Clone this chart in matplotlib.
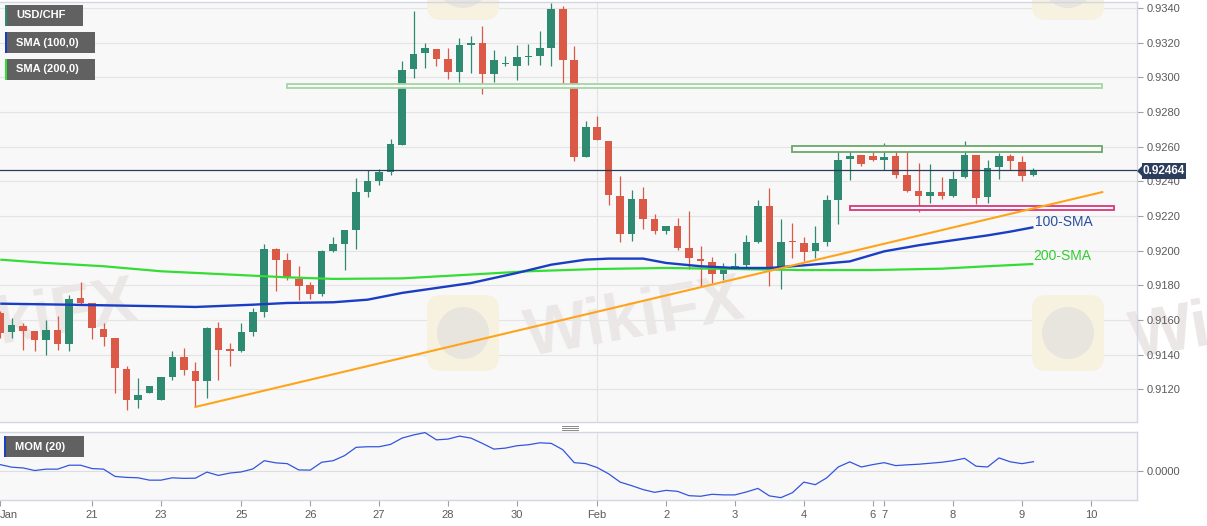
import numpy as np
import matplotlib
matplotlib.use('Agg')
import matplotlib.pyplot as plt
from matplotlib.patches import Rectangle, FancyBboxPatch, Circle, Polygon
from matplotlib.lines import Line2D
from matplotlib.transforms import IdentityTransform

plt.rcParams['font.family'] = ['Liberation Sans', 'DejaVu Sans']

# 4h candles, USD/CHF
opens = [0.91640, 0.91529, 0.91567, 0.91535, 0.91487, 0.91540, 0.91462, 0.91727, 0.91698, 0.91550,
         0.91496, 0.91319, 0.91137, 0.91177, 0.91140, 0.91271, 0.91387, 0.91304, 0.91246, 0.91554,
         0.91430, 0.91419, 0.91531, 0.91646, 0.92010, 0.91948, 0.91837, 0.91800, 0.91752, 0.91996,
         0.92038, 0.92117, 0.92338, 0.92404, 0.92454, 0.92612, 0.93048, 0.93140, 0.93165, 0.93106,
         0.93029, 0.93188, 0.93198, 0.93021, 0.93080, 0.93067, 0.93117, 0.93125, 0.93169, 0.93396,
         0.93098, 0.92540, 0.92713, 0.92635, 0.92313, 0.92096, 0.92298, 0.92185, 0.92112, 0.92144,
         0.92015, 0.91952, 0.91933, 0.91867, 0.91905, 0.91919, 0.92048, 0.92260, 0.91900, 0.92054,
         0.92044, 0.91996, 0.92048, 0.92294, 0.92529, 0.92550, 0.92548, 0.92521, 0.92544, 0.92435,
         0.92342, 0.92313, 0.92337, 0.92313, 0.92423, 0.92554, 0.92308, 0.92481, 0.92548, 0.92510,
         0.92437]
highs = [0.91650, 0.91609, 0.91583, 0.91535, 0.91602, 0.91621, 0.91746, 0.91817, 0.91698, 0.91583,
         0.91496, 0.91337, 0.91265, 0.91221, 0.91269, 0.91419, 0.91438, 0.91356, 0.91558, 0.91587,
         0.91467, 0.91583, 0.91669, 0.92038, 0.92015, 0.91987, 0.91910, 0.91817, 0.92006, 0.92079,
         0.92117, 0.92419, 0.92463, 0.92471, 0.92644, 0.93092, 0.93381, 0.93198, 0.93165, 0.93169,
         0.93227, 0.93237, 0.93298, 0.93156, 0.93125, 0.93185, 0.93194, 0.93265, 0.93429, 0.93413,
         0.93179, 0.92746, 0.92779, 0.92635, 0.92433, 0.92348, 0.92367, 0.92213, 0.92144, 0.92188,
         0.92227, 0.92025, 0.91963, 0.91929, 0.91987, 0.92092, 0.92294, 0.92362, 0.92185, 0.92160,
         0.92079, 0.92140, 0.92323, 0.92592, 0.92573, 0.92550, 0.92592, 0.92621, 0.92573, 0.92573,
         0.92506, 0.92502, 0.92425, 0.92458, 0.92631, 0.92554, 0.92521, 0.92563, 0.92558, 0.92548,
         0.92477]
lows = [0.91496, 0.91496, 0.91429, 0.91419, 0.91400, 0.91429, 0.91419, 0.91688, 0.91491, 0.91448,
        0.91179, 0.91083, 0.91092, 0.91177, 0.91140, 0.91256, 0.91285, 0.91098, 0.91150, 0.91256,
        0.91333, 0.91415, 0.91506, 0.91617, 0.91765, 0.91833, 0.91717, 0.91721, 0.91740, 0.91992,
        0.91890, 0.92010, 0.92310, 0.92381, 0.92435, 0.92608, 0.92996, 0.93054, 0.93063, 0.92990,
        0.92971, 0.93025, 0.92904, 0.92971, 0.93063, 0.92983, 0.93073, 0.93073, 0.93063, 0.92952,
        0.92519, 0.92540, 0.92637, 0.92265, 0.92048, 0.92054, 0.92125, 0.92096, 0.92098, 0.92006,
        0.91894, 0.91794, 0.91813, 0.91833, 0.91900, 0.91900, 0.92044, 0.91794, 0.91779, 0.91958,
        0.91938, 0.91958, 0.92025, 0.92156, 0.92406, 0.92487, 0.92515, 0.92467, 0.92419, 0.92337,
        0.92221, 0.92275, 0.92300, 0.92310, 0.92419, 0.92271, 0.92275, 0.92413, 0.92463, 0.92400,
        0.92429]
closes = [0.91525, 0.91573, 0.91538, 0.91487, 0.91544, 0.91463, 0.91723, 0.91698, 0.91554, 0.91502,
          0.91323, 0.91140, 0.91165, 0.91221, 0.91269, 0.91385, 0.91310, 0.91250, 0.91554, 0.91429,
          0.91422, 0.91531, 0.91644, 0.92010, 0.91944, 0.91846, 0.91798, 0.91752, 0.91996, 0.92038,
          0.92117, 0.92337, 0.92404, 0.92452, 0.92617, 0.93044, 0.93137, 0.93169, 0.93108, 0.93029,
          0.93185, 0.93198, 0.93021, 0.93102, 0.93085, 0.93117, 0.93121, 0.93169, 0.93396, 0.93102,
          0.92540, 0.92713, 0.92637, 0.92319, 0.92096, 0.92298, 0.92185, 0.92112, 0.92144, 0.92015,
          0.91958, 0.91938, 0.91867, 0.91894, 0.91910, 0.92048, 0.92260, 0.91900, 0.92050, 0.92048,
          0.91992, 0.92044, 0.92294, 0.92525, 0.92548, 0.92502, 0.92521, 0.92540, 0.92438, 0.92346,
          0.92313, 0.92338, 0.92313, 0.92415, 0.92554, 0.92304, 0.92477, 0.92548, 0.92515, 0.92433,
          0.92464]

# moving averages, sampled along the curves
sma100_idx = [0, 6, 14, 17, 22, 25, 29, 32, 35, 41, 45, 48, 51, 53, 56, 58, 61, 64, 67, 70,
              74, 77, 80, 83, 86, 88, 90]
sma100_val = [0.91694, 0.91688, 0.91679, 0.91675, 0.91688, 0.91698, 0.91702, 0.91717, 0.91756,
              0.91813, 0.91871, 0.91919, 0.91948, 0.91954, 0.91954, 0.91929, 0.91910, 0.91900,
              0.91900, 0.91915, 0.91938, 0.91996, 0.92031, 0.92060, 0.92088, 0.92110, 0.92135]
sma200_idx = [0, 4, 9, 14, 20, 25, 29, 35, 41, 46, 52, 58, 64, 70, 76, 82, 86, 90]
sma200_val = [0.91948, 0.91929, 0.91910, 0.91881, 0.91862, 0.91846, 0.91837, 0.91840, 0.91862,
              0.91881, 0.91894, 0.91900, 0.91894, 0.91888, 0.91888, 0.91896, 0.91910, 0.91923]

# momentum (20)
mom = [0.0030, 0.0017, 0.0013, 0.0000, 0.0007, 0.0007, 0.0027, 0.0027, 0.0010, 0.0007,
       -0.0030, -0.0035, -0.0037, -0.0049, -0.0049, -0.0037, -0.0040, -0.0039, -0.0008, -0.0025,
       -0.0013, -0.0007, 0.0008, 0.0050, 0.0039, 0.0035, 0.0003, 0.0002, 0.0042, 0.0050,
       0.0076, 0.0118, 0.0121, 0.0121, 0.0133, 0.0165, 0.0181, 0.0193, 0.0156, 0.0160,
       0.0175, 0.0165, 0.0138, 0.0109, 0.0114, 0.0126, 0.0131, 0.0141, 0.0138, 0.0106,
       0.0040, 0.0035, 0.0015, -0.0017, -0.0059, -0.0077, -0.0097, -0.0111, -0.0101, -0.0106,
       -0.0128, -0.0131, -0.0121, -0.0124, -0.0124, -0.0109, -0.0091, -0.0129, -0.0138, -0.0113,
       -0.0059, -0.0072, -0.0037, 0.0018, 0.0044, 0.0018, 0.0030, 0.0040, 0.0025, 0.0029,
       0.0032, 0.0037, 0.0042, 0.0050, 0.0062, 0.0022, 0.0018, 0.0064, 0.0044, 0.0035,
       0.0045]

# drawn levels
trend_idx = [17, 96]
trend_val = [0.91098, 0.92338]
zone_start = [25, 69, 74]
zone_end = [96, 96, 97]
zone_low = [0.92938, 0.92571, 0.92237]
zone_high = [0.92964, 0.92602, 0.92260]
last_price = 0.92464

day_pos = [0, 8, 14, 21, 27, 33, 39, 45, 52, 58, 64, 70, 76, 77, 83, 89, 95]
day_lab = ['Jan', '21', '23', '25', '26', '27', '28', '30', 'Feb', '2', '3', '4', '6', '7', '8', '9', '10']
price_ticks = [0.9120, 0.9140, 0.9160, 0.9180, 0.9200, 0.9220, 0.9240, 0.9260, 0.9280, 0.9300, 0.9320, 0.9340]

W, H = 1207, 526
GREEN = '#2e8a70'
RED = '#da5a47'
BORDER = '#d3d6e4'
TXT = '#5a5a5a'

fig = plt.figure(figsize=(W / 100, H / 100), dpi=100)
fig.patch.set_facecolor('white')
ax = fig.add_axes([0, 1 - 422 / H, 1137 / W, 420.5 / H])
axm = fig.add_axes([0, 1 - 500 / H, 1137 / W, 68 / H])

idx = np.arange(len(closes))
o = np.array(opens); c = np.array(closes)
h = np.array(highs); l = np.array(lows)
up = c >= o
cols = np.where(up, GREEN, RED)

for a in (ax, axm):
    a.set_facecolor('#f8f8f8')
    a.set_xlim(-0.02, 99.02)
    a.spines['left'].set_visible(False)
    for s in ('top', 'right', 'bottom'):
        a.spines[s].set_color(BORDER)
        a.spines[s].set_linewidth(1)
    a.yaxis.tick_right()
    a.tick_params(axis='y', length=4, width=0.8, color='#a0a0a0', labelcolor=TXT,
                  labelsize=8, pad=3)
    a.axvline(52, color='#e2e2e2', lw=0.8, zorder=0.6)

# main panel
ax.set_ylim(0.91011, 0.93438)
ax.set_yticks(price_ticks)
ax.set_yticklabels(['%.4f' % t for t in price_ticks])
ax.set_xticks([])
for t in price_ticks:
    ax.axhline(t, color='#e4e4e4', lw=0.8, zorder=0.5)

ax.vlines(idx, l, h, colors=cols, lw=0.9, zorder=3)
body = np.maximum(np.abs(c - o), 0.00004)
ax.bar(idx, body, bottom=np.minimum(o, c), width=0.66, color=cols, lw=0, zorder=3)

ax.plot(sma200_idx, sma200_val, color='#33dd33', lw=1.6, zorder=4, solid_capstyle='butt')
ax.plot(sma100_idx, sma100_val, color='#1a3dc4', lw=1.7, zorder=4, solid_capstyle='butt')
ax.plot(trend_idx, trend_val, color='#ffa31a', lw=1.5, zorder=4)

zone_edge = ['#a3d6a3', '#6aa86a', '#d9367a']
for s, e, lo, hi, ec in zip(zone_start, zone_end, zone_low, zone_high, zone_edge):
    ax.add_patch(Rectangle((s, lo), e - s, hi - lo, facecolor='#fbfbfb', edgecolor=ec,
                           lw=1.3, zorder=3.5))

ax.axhline(last_price, color='#2b3d5c', lw=0.9, zorder=5)
ax.text(90.1, 0.92165, '100-SMA', color='#2a4fa0', fontsize=10, va='center', ha='left', zorder=6)
ax.text(90.0, 0.91969, '200-SMA', color='#33cc33', fontsize=10, va='center', ha='left', zorder=6)

# momentum panel
axm.set_ylim(-0.0150, 0.0196)
axm.set_yticks([0.0])
axm.set_yticklabels(['0.0000'])
axm.axhline(0, color='#dedede', lw=0.8, zorder=0.5)
axm.plot(idx, mom, color='#3355dd', lw=0.9, zorder=3)
axm.set_xticks(day_pos)
axm.set_xticklabels(day_lab)
axm.tick_params(axis='x', length=4, width=0.8, color='#a0a0a0', labelcolor=TXT, labelsize=8, pad=3)
axm.get_xticklabels()[0].set_horizontalalignment('left')

# faint watermark (pixel coordinates)
pix = IdentityTransform()
for cx, cy in [(463, 333), (1068, 333), (463, -18), (1068, -18)]:
    ax.add_patch(FancyBboxPatch((cx - 36, H - cy - 38), 72, 76, boxstyle='round,pad=0,rounding_size=14',
                                transform=pix, facecolor='#f7f2df', edgecolor='none',
                                zorder=1, clip_on=False))
    ax.add_patch(Circle((cx, H - cy), 26, transform=pix, facecolor='#e8e4de',
                        edgecolor='none', zorder=1.1, clip_on=False))
for tx, ty in [(28, 322), (635, 320), (1240, 322)]:
    ax.text(tx, H - ty, 'WikiFX', transform=pix, fontsize=48, fontweight='bold',
            color='#ebe7e7', rotation=10, ha='center', va='center', zorder=1, clip_on=False)

# legend boxes
for (x0, y0, w, lab, sc) in [(5, 5, 78, 'USD/CHF', GREEN), (5, 32, 90, 'SMA (100,0)', '#1a3dc4'),
                             (5, 59, 90, 'SMA (200,0)', '#33dd33'), (4, 436, 80, 'MOM (20)', '#1a3dc4')]:
    fig.add_artist(Rectangle((x0, H - y0 - 21), w, 21, transform=pix, facecolor='#616161',
                             edgecolor='none', zorder=10))
    fig.add_artist(Rectangle((x0, H - y0 - 21), 2, 21, transform=pix, facecolor=sc,
                             edgecolor='none', zorder=11))
    fig.text(x0 + 11, H - y0 - 10.5, lab, transform=pix, color='white', fontsize=8,
             fontweight='bold', va='center', ha='left', zorder=12)

# last price tag
fig.add_artist(Polygon([(1137, H - 171), (1143, H - 165), (1143, H - 177)], closed=True,
                       transform=pix, facecolor='#2b3d5c', edgecolor='none', zorder=10))
fig.add_artist(Rectangle((1142, H - 179), 44, 16, transform=pix, facecolor='#2b3d5c',
                         edgecolor='none', zorder=10))
fig.text(1164, H - 171, '%.5f' % last_price, transform=pix, color='white', fontsize=8.5,
         fontweight='bold', va='center', ha='center', zorder=12)

# panel resize handle
for yy in (425.5, 427.5, 429.5):
    fig.add_artist(Line2D([562, 578], [H - yy, H - yy], transform=pix, color='#8a8a8a', lw=0.7))

fig.savefig('out.png', dpi=100)
